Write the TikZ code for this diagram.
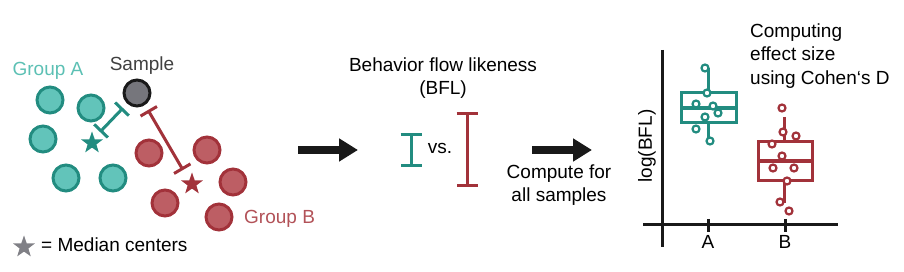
\documentclass[tikz,border=0pt]{standalone}
\usepackage{fontspec}
\setmainfont{Liberation Sans}
\usepackage{xcolor}
\usepackage{tikz}
\usetikzlibrary{positioning,arrows.meta,shapes.geometric,calc}
\definecolor{tealdk}{RGB}{34,140,128}
\definecolor{teallt}{RGB}{98,196,186}
\definecolor{tealtx}{RGB}{92,192,180}
\definecolor{reddk}{RGB}{162,50,58}
\definecolor{redlt}{RGB}{189,94,100}
\definecolor{redtx}{RGB}{178,82,88}
\definecolor{smpgray}{RGB}{118,118,124}
\definecolor{stargray}{RGB}{128,128,134}
\tikzset{
  lbl/.style={font=\fontsize{19}{23.5}\selectfont, align=center, inner sep=1pt},
  dotA/.style={circle, draw=tealdk, fill=teallt, line width=3pt, minimum size=26pt, inner sep=0pt},
  dotB/.style={circle, draw=reddk, fill=redlt, line width=3pt, minimum size=26pt, inner sep=0pt},
  med/.style={star, star points=5, star point ratio=2.5, minimum size=23pt, inner sep=0pt},
  dist/.style={{Bar[width=19pt]}-{Bar[width=19pt]}, line width=3pt},
  bigarr/.style={-{Triangle[length=19pt,width=22pt]}, line width=8pt, draw=black!90},
  pt/.style={circle, draw, fill=white, line width=2.2pt, minimum size=7pt, inner sep=0pt},
  boxp/.style={line width=3pt},
}
\begin{document}
\begin{tikzpicture}[x=1pt,y=-1pt]
    \useasboundingbox (0,0) rectangle (904,272);
    % group A and group B
    \node[dotA] (a1) at (50,100) {};
    \node[dotA] (a2) at (91,108) {};
    \node[dotA] (a3) at (43,139) {};
    \node[dotA] (a4) at (66,178) {};
    \node[dotA] (a5) at (113,178) {};
    \node[dotB] (b1) at (149,153) {};
    \node[dotB] (b2) at (207,150) {};
    \node[dotB] (b3) at (233,182) {};
    \node[dotB] (b4) at (165,203) {};
    \node[dotB] (b5) at (219,217) {};
    \node[circle, draw=black!90, fill=smpgray, line width=3pt, minimum size=26pt, inner sep=0pt] (smp) at (137,93) {};
    \node[med, fill=tealdk] (ma) at (92,143) {};
    \node[med, fill=reddk] (mb) at (192,184) {};
    \node[lbl, text=tealtx] (ga) at (48,71) {Group A};
    \node[lbl, text=black!75] (sl) at (142,66) {Sample};
    \node[lbl, text=redtx, anchor=west] (gb) at (243,219) {Group B};
    \node[med, fill=stargray] (lg) at (24,247) {};
    \node[lbl, anchor=west] (lgt) at (40,245) {= Median centers};
    % distances
    \coordinate (da1) at (100,132); \coordinate (da2) at (123,108);
    \coordinate (db1) at (148,110); \coordinate (db2) at (183,170);
    \draw[dist, draw=tealdk] (da1) -- (da2);
    \draw[dist, draw=reddk] (db1) -- (db2);
    % BFL
    \coordinate (q1) at (298,150); \coordinate (q2) at (358,150);
    \draw[bigarr] (q1) -- (q2);
    \node[lbl] (bfl) at (443,78) {Behavior flow likeness\\(BFL)};
    \coordinate (ia1) at (411,133); \coordinate (ia2) at (411,167);
    \coordinate (ib1) at (467,112); \coordinate (ib2) at (467,187);
    \draw[{Bar[width=21pt]}-{Bar[width=21pt]}, line width=3pt, draw=tealdk] (ia1) -- (ia2);
    \draw[{Bar[width=21pt]}-{Bar[width=21pt]}, line width=3pt, draw=reddk] (ib1) -- (ib2);
    \node[lbl] (vs) at (440,148) {vs.};
    \coordinate (r1) at (532,150); \coordinate (r2) at (592,150);
    \draw[bigarr] (r1) -- (r2);
    \node[lbl] (cmp) at (559,185) {Compute for\\all samples};
    % effect size plot
    \node[lbl, align=left, anchor=west] (coh) at (749,56) {Computing\\effect size\\using Cohen‘s D};
    \draw[line width=3pt, black!90] (662,50) -- (662,247);
    \draw[line width=3pt, black!90] (643,225) -- (838,225);
    \foreach \tx/\tn in {708/A, 785/B} {
      \draw[line width=3pt, black!90] (\tx,219) -- (\tx,232);
      \node[lbl] at (\tx,242) {\tn};
    }
    \node[lbl, rotate=90] (yl) at (647,146) {log(BFL)};
    % box A
    \draw[boxp, tealdk] (708,68) -- (708,141);
    \draw[boxp, tealdk, fill=white] (681,93) rectangle (736,123);
    \draw[line width=4.5pt, tealdk] (681,108) -- (736,108);
    \foreach \px/\py in {705/68, 707/93, 696/104, 713/106, 718/113, 705/117, 696/129, 710/141}
      \node[pt, draw=tealdk] at (\px,\py) {};
    % box B
    \draw[boxp, reddk] (784,117) -- (784,203);
    \draw[boxp, reddk, fill=white] (758,142) rectangle (812,181);
    \draw[line width=4.5pt, reddk] (758,161) -- (812,161);
    \foreach \px/\py in {782/108, 783/132, 796/136, 772/144, 782/156, 773/168, 794/168, 787/181, 780/202, 789/211}
      \node[pt, draw=reddk] at (\px,\py) {};
  \end{tikzpicture}
\end{document}
